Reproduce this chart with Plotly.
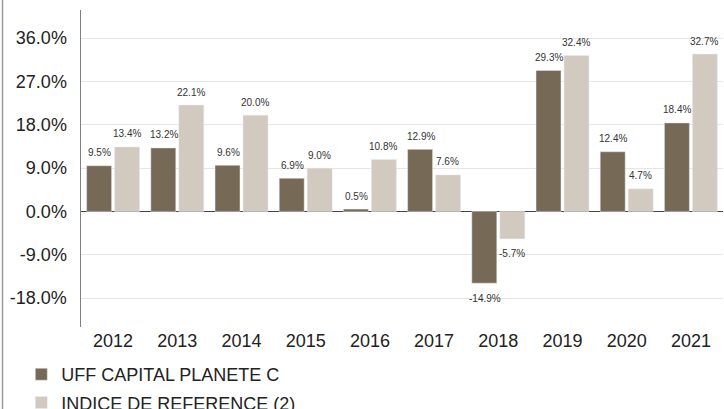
import plotly.graph_objects as go

years = ["2012", "2013", "2014", "2015", "2016", "2017", "2018", "2019", "2020", "2021"]
fund = [9.5, 13.2, 9.6, 6.9, 0.5, 12.9, -14.9, 29.3, 12.4, 18.4]
index_ref = [13.4, 22.1, 20.0, 9.0, 10.8, 7.6, -5.7, 32.4, 4.7, 32.7]
names = ["UFF CAPITAL PLANETE C", "INDICE DE REFERENCE (2)"]
tick_vals = [-18, -9, 0, 9, 18, 27, 36]
tick_text = ["-18.0%", "-9.0%", "0.0%", "9.0%", "18.0%", "27.0%", "36.0%"]

DARK = "#766a56"
LIGHT = "#d2c9bf"
FONT = "Liberation Sans, Arial, sans-serif"

fig = go.Figure()
fig.add_trace(go.Bar(x=years, y=fund, name=names[0], marker_color=DARK, legendgroup="a"))
fig.add_trace(go.Bar(x=years, y=index_ref, name=names[1], marker_color=LIGHT, legendgroup="b"))

annotations = []
for series, shift in ((fund, -13.5), (index_ref, 13.5)):
    for i, v in enumerate(series):
        annotations.append(dict(
            x=i, y=v, xref="x", yref="y", text=f"{v:.1f}%", showarrow=False,
            xshift=shift, yshift=13 if v >= 0 else -15, yanchor="middle",
            font=dict(family=FONT, size=10, color="#333333")))

fig.update_layout(
    width=724, height=409,
    margin=dict(l=81, r=1, t=10, b=82, autoexpand=False),
    paper_bgcolor="white", plot_bgcolor="white",
    barmode="group", bargap=0.128, bargroupgap=0.107,
    font=dict(family=FONT, size=18, color="#222222"),
    annotations=annotations,
    showlegend=True,
    legend=dict(orientation="v", x=-0.093, xanchor="left", y=-0.0915, yanchor="top",
                font=dict(family=FONT, size=18, color="#222222"),
                traceorder="grouped", maxheight=400,
                bgcolor="rgba(0,0,0,0)", tracegroupgap=2, itemclick=False),
    xaxis=dict(type="category", range=[-0.5, 9.5], showgrid=False, showline=False,
               ticks="", automargin=False, ticklabelstandoff=1,
               tickfont=dict(family=FONT, size=18, color="#222222")),
    yaxis=dict(range=[-24.0, 41.85], tickvals=tick_vals, ticktext=tick_text,
               showgrid=True, gridcolor="#e6e6e6", gridwidth=1,
               zeroline=True, zerolinecolor="#444444", zerolinewidth=1.5,
               showline=True, linecolor="#808080", linewidth=1.5,
               ticks="", ticklabelstandoff=9, automargin=False,
               tickfont=dict(family=FONT, size=18, color="#222222")),
    shapes=[dict(type="line", xref="paper", yref="paper",
                 x0=(2.5 - 81) / 642, x1=(2.5 - 81) / 642, y0=-82 / 317, y1=(317 + 10) / 317,
                 line=dict(color="#999999", width=1.5))],
)

fig.write_html(
    "out.html",
    config={"displayModeBar": False, "staticPlot": True},
    post_script=(
        "document.body.style.margin='0';"
        "document.documentElement.style.overflow='hidden';"
        "document.body.style.overflow='hidden';"
        "document.querySelectorAll('.scrollbar').forEach(function(e){e.style.display='none';});"
    ),
)
